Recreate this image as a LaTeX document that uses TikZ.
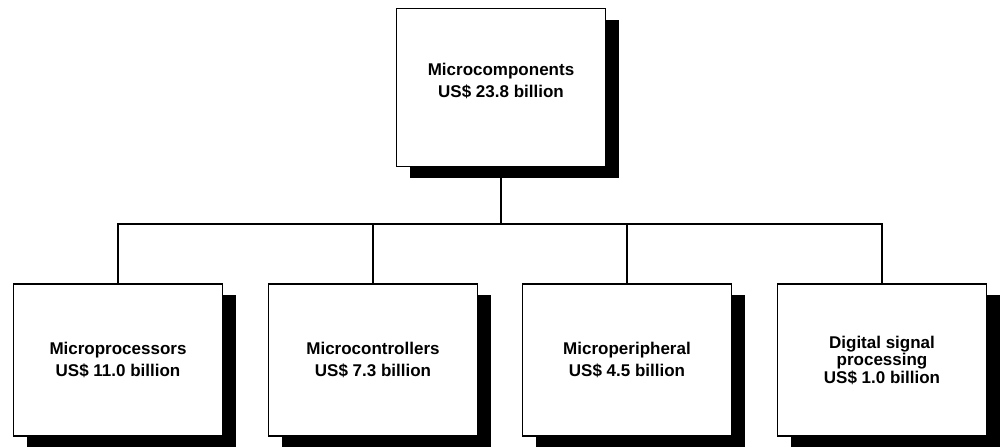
\documentclass[tikz,border=0pt]{standalone}
\usepackage{fontspec}
\setmainfont{Liberation Sans}
\usetikzlibrary{shadows}
\begin{document}
\begin{tikzpicture}[x=1pt,y=-1pt,
  unit/.style={draw=black, line width=1.8pt, fill=white, inner sep=0pt,
    minimum width=209pt, minimum height=152pt, align=center,
    font=\bfseries\fontsize{17}{22}\selectfont,
    general shadow={fill=black, shadow xshift=13pt, shadow yshift=-11pt}},
  link/.style={draw=black, line width=1.8pt}]
\useasboundingbox (0,0) rectangle (1003,447);
% parent node
\node[unit, minimum height=158pt, text depth=14pt] (top) at (501,87.5) {Microcomponents\\US\$ 23.8 billion};
% product segments
\node[unit] (b1) at (118,360) {Microprocessors\\US\$ 11.0 billion};
\node[unit] (b2) at (373,360) {Microcontrollers\\US\$ 7.3 billion};
\node[unit] (b3) at (627,360) {Microperipheral\\US\$ 4.5 billion};
\node[unit, font=\bfseries\fontsize{17}{17.5}\selectfont] (b4) at (882,360) {Digital signal\\processing\\US\$ 1.0 billion};
% tree connectors
\coordinate (bus) at (501,224);
\draw[link] (top.south) -- (bus);
\draw[link] (b1.north) -- (b1.north |- bus) -- (b4.north |- bus) -- (b4.north);
\draw[link] (b2.north) -- (b2.north |- bus);
\draw[link] (b3.north) -- (b3.north |- bus);
\end{tikzpicture}
\end{document}
